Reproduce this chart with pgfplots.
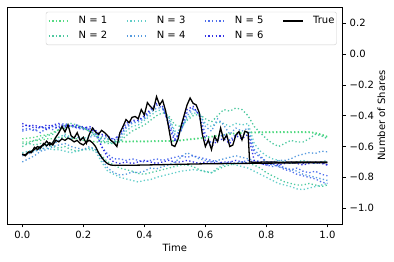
\documentclass[border=0pt]{standalone}
\usepackage{fontspec}
\setmainfont{DejaVu Sans}
\usepackage{pgfplots}
\pgfplotsset{compat=1.18}
\usepackage{pgfplotstable}

\definecolor{cN1}{RGB}{70,215,120}
\definecolor{cN2}{RGB}{60,195,150}
\definecolor{cN3}{RGB}{80,200,195}
\definecolor{cN4}{RGB}{70,145,220}
\definecolor{cN5}{RGB}{60,95,235}
\definecolor{cN6}{RGB}{30,30,225}
\definecolor{legframe}{RGB}{204,204,204}

\pgfplotstableread{
t    A1     A2    A3    A4    A5    A6    B1     B2    B3    B4    B5    B6
0.00 -0.550 -0.60 -0.64 -0.66 -0.49 -0.47 -0.570 -0.58 -0.65 -0.70 -0.50 -0.45
0.02 -0.545 -0.58 -0.63 -0.65 -0.48 -0.46 -0.570 -0.58 -0.64 -0.68 -0.49 -0.47
0.04 -0.540 -0.56 -0.62 -0.63 -0.50 -0.48 -0.560 -0.59 -0.63 -0.66 -0.49 -0.46
0.06 -0.530 -0.55 -0.60 -0.62 -0.47 -0.47 -0.560 -0.58 -0.62 -0.63 -0.51 -0.48
0.08 -0.525 -0.53 -0.59 -0.60 -0.48 -0.49 -0.550 -0.59 -0.61 -0.62 -0.48 -0.46
0.10 -0.510 -0.52 -0.57 -0.59 -0.47 -0.46 -0.550 -0.60 -0.62 -0.60 -0.49 -0.47
0.12 -0.490 -0.49 -0.54 -0.56 -0.46 -0.45 -0.540 -0.61 -0.62 -0.59 -0.47 -0.48
0.14 -0.480 -0.46 -0.52 -0.53 -0.45 -0.47 -0.540 -0.60 -0.63 -0.58 -0.48 -0.46
0.16 -0.470 -0.45 -0.54 -0.55 -0.47 -0.46 -0.550 -0.62 -0.64 -0.60 -0.46 -0.47
0.18 -0.470 -0.46 -0.53 -0.54 -0.48 -0.48 -0.550 -0.63 -0.63 -0.61 -0.47 -0.46
0.20 -0.480 -0.48 -0.55 -0.56 -0.49 -0.47 -0.560 -0.62 -0.62 -0.62 -0.48 -0.48
0.22 -0.500 -0.50 -0.53 -0.54 -0.48 -0.49 -0.560 -0.61 -0.62 -0.60 -0.50 -0.47
0.24 -0.520 -0.53 -0.52 -0.53 -0.51 -0.50 -0.570 -0.62 -0.63 -0.62 -0.52 -0.49
0.26 -0.540 -0.57 -0.56 -0.55 -0.53 -0.52 -0.570 -0.66 -0.70 -0.68 -0.60 -0.60
0.28 -0.555 -0.58 -0.57 -0.55 -0.54 -0.53 -0.568 -0.70 -0.76 -0.74 -0.65 -0.67
0.30 -0.565 -0.58 -0.58 -0.57 -0.55 -0.56 -0.569 -0.72 -0.78 -0.77 -0.68 -0.70
0.32 -0.565 -0.57 -0.56 -0.54 -0.53 -0.52 -0.569 -0.74 -0.80 -0.785 -0.68 -0.71
0.34 -0.566 -0.53 -0.50 -0.48 -0.47 -0.45 -0.570 -0.75 -0.81 -0.78 -0.69 -0.70
0.36 -0.565 -0.50 -0.47 -0.45 -0.44 -0.43 -0.569 -0.76 -0.82 -0.765 -0.68 -0.71
0.38 -0.565 -0.48 -0.46 -0.44 -0.43 -0.43 -0.569 -0.775 -0.83 -0.77 -0.69 -0.70
0.40 -0.565 -0.46 -0.43 -0.42 -0.41 -0.40 -0.569 -0.78 -0.82 -0.76 -0.70 -0.69
0.42 -0.564 -0.43 -0.40 -0.38 -0.37 -0.36 -0.568 -0.77 -0.815 -0.74 -0.69 -0.70
0.44 -0.563 -0.40 -0.37 -0.35 -0.33 -0.32 -0.567 -0.76 -0.80 -0.745 -0.68 -0.71
0.46 -0.562 -0.38 -0.36 -0.35 -0.35 -0.34 -0.566 -0.75 -0.79 -0.73 -0.69 -0.70
0.48 -0.562 -0.40 -0.41 -0.42 -0.44 -0.46 -0.566 -0.74 -0.78 -0.72 -0.68 -0.69
0.50 -0.562 -0.46 -0.50 -0.52 -0.55 -0.57 -0.566 -0.73 -0.77 -0.70 -0.67 -0.70
0.52 -0.558 -0.47 -0.49 -0.50 -0.50 -0.48 -0.562 -0.72 -0.76 -0.67 -0.66 -0.70
0.54 -0.553 -0.43 -0.42 -0.40 -0.38 -0.36 -0.557 -0.72 -0.755 -0.64 -0.67 -0.69
0.56 -0.549 -0.40 -0.38 -0.36 -0.35 -0.34 -0.553 -0.73 -0.75 -0.66 -0.66 -0.70
0.58 -0.545 -0.39 -0.39 -0.38 -0.39 -0.40 -0.549 -0.75 -0.755 -0.68 -0.67 -0.71
0.60 -0.540 -0.42 -0.45 -0.47 -0.52 -0.56 -0.544 -0.765 -0.76 -0.69 -0.68 -0.70
0.62 -0.534 -0.44 -0.47 -0.50 -0.58 -0.60 -0.538 -0.77 -0.77 -0.70 -0.69 -0.70
0.64 -0.528 -0.40 -0.44 -0.42 -0.55 -0.56 -0.532 -0.75 -0.74 -0.69 -0.70 -0.71
0.66 -0.522 -0.36 -0.45 -0.46 -0.52 -0.55 -0.526 -0.73 -0.72 -0.68 -0.71 -0.70
0.68 -0.516 -0.37 -0.47 -0.52 -0.56 -0.58 -0.520 -0.72 -0.71 -0.67 -0.70 -0.70
0.70 -0.512 -0.35 -0.45 -0.48 -0.52 -0.53 -0.516 -0.71 -0.72 -0.66 -0.71 -0.69
0.72 -0.509 -0.36 -0.46 -0.50 -0.53 -0.55 -0.513 -0.70 -0.73 -0.67 -0.70 -0.70
0.74 -0.507 -0.40 -0.45 -0.48 -0.50 -0.52 -0.511 -0.71 -0.74 -0.68 -0.69 -0.71
0.76 -0.506 -0.47 -0.58 -0.62 -0.64 -0.69 -0.510 -0.72 -0.76 -0.69 -0.70 -0.70
0.78 -0.506 -0.51 -0.63 -0.66 -0.67 -0.70 -0.510 -0.74 -0.78 -0.70 -0.71 -0.71
0.80 -0.505 -0.55 -0.66 -0.70 -0.70 -0.71 -0.509 -0.77 -0.80 -0.71 -0.72 -0.72
0.82 -0.505 -0.58 -0.68 -0.70 -0.71 -0.70 -0.509 -0.79 -0.82 -0.72 -0.73 -0.71
0.84 -0.505 -0.60 -0.69 -0.69 -0.73 -0.71 -0.509 -0.81 -0.84 -0.73 -0.72 -0.72
0.86 -0.505 -0.58 -0.70 -0.69 -0.75 -0.70 -0.509 -0.83 -0.85 -0.74 -0.74 -0.71
0.88 -0.505 -0.56 -0.71 -0.68 -0.76 -0.71 -0.509 -0.84 -0.86 -0.75 -0.75 -0.70
0.90 -0.505 -0.57 -0.70 -0.66 -0.78 -0.70 -0.509 -0.85 -0.875 -0.76 -0.74 -0.71
0.92 -0.505 -0.57 -0.69 -0.65 -0.79 -0.71 -0.509 -0.85 -0.88 -0.78 -0.76 -0.72
0.94 -0.505 -0.55 -0.70 -0.64 -0.80 -0.70 -0.509 -0.84 -0.87 -0.79 -0.77 -0.71
0.96 -0.510 -0.52 -0.71 -0.645 -0.81 -0.71 -0.514 -0.85 -0.86 -0.80 -0.76 -0.70
0.98 -0.520 -0.53 -0.70 -0.63 -0.83 -0.70 -0.524 -0.86 -0.85 -0.81 -0.78 -0.71
1.00 -0.535 -0.55 -0.69 -0.635 -0.84 -0.72 -0.539 -0.85 -0.84 -0.82 -0.79 -0.72
}\Ndata

\pgfplotstableread{
t v
0.00 -0.650
0.01 -0.655
0.02 -0.635
0.03 -0.640
0.04 -0.605
0.05 -0.620
0.06 -0.600
0.07 -0.590
0.08 -0.565
0.09 -0.590
0.10 -0.575
0.11 -0.540
0.12 -0.510
0.13 -0.470
0.14 -0.505
0.15 -0.460
0.16 -0.530
0.17 -0.545
0.18 -0.510
0.19 -0.560
0.20 -0.540
0.21 -0.580
0.22 -0.520
0.23 -0.480
0.24 -0.505
0.25 -0.520
0.26 -0.495
0.27 -0.510
0.28 -0.530
0.29 -0.560
0.30 -0.575
0.31 -0.600
0.32 -0.510
0.33 -0.470
0.34 -0.425
0.35 -0.445
0.36 -0.410
0.37 -0.405
0.38 -0.420
0.39 -0.360
0.40 -0.395
0.41 -0.315
0.42 -0.340
0.43 -0.360
0.44 -0.276
0.45 -0.330
0.46 -0.300
0.47 -0.370
0.48 -0.480
0.49 -0.590
0.50 -0.600
0.51 -0.555
0.52 -0.470
0.53 -0.400
0.54 -0.330
0.55 -0.285
0.56 -0.320
0.57 -0.330
0.58 -0.380
0.59 -0.520
0.60 -0.600
0.61 -0.557
0.62 -0.620
0.63 -0.535
0.64 -0.568
0.65 -0.480
0.66 -0.557
0.67 -0.525
0.68 -0.600
0.69 -0.590
0.70 -0.525
0.71 -0.503
0.72 -0.557
0.73 -0.500
0.74 -0.510
0.745 -0.700
0.76 -0.703
0.80 -0.700
0.85 -0.702
0.90 -0.700
0.95 -0.701
1.00 -0.700
}\TrueA

\pgfplotstableread{
t v
0.00 -0.650
0.01 -0.660
0.02 -0.640
0.03 -0.630
0.04 -0.620
0.05 -0.600
0.06 -0.610
0.07 -0.580
0.08 -0.595
0.09 -0.575
0.10 -0.590
0.11 -0.560
0.12 -0.570
0.13 -0.550
0.14 -0.560
0.15 -0.545
0.16 -0.555
0.17 -0.570
0.18 -0.560
0.19 -0.580
0.20 -0.590
0.21 -0.570
0.22 -0.560
0.23 -0.575
0.24 -0.600
0.25 -0.640
0.26 -0.670
0.27 -0.695
0.28 -0.712
0.29 -0.720
0.30 -0.722
0.35 -0.722
0.40 -0.720
0.45 -0.718
0.50 -0.716
0.55 -0.714
0.60 -0.712
0.70 -0.710
0.80 -0.708
0.90 -0.706
1.00 -0.705
}\TrueB

\pgfplotsset{
  nline/.style={line width=1.3pt, dash pattern=on 1.3pt off 2.3pt, draw opacity=0.9},
}
\newcommand{\lent}[1]{\makebox[47.4pt][l]{#1}}

\begin{document}
\fontsize{10}{12}\selectfont
\begin{tikzpicture}
\path[use as bounding box] (-7pt,-38pt) rectangle (387pt,224pt);
\begin{axis}[
  at={(0,0)}, anchor=south west,
  width=335.7pt, height=217pt, scale only axis,
  xmin=-0.05, xmax=1.05, ymin=-1.103, ymax=0.306,
  xtick={0,0.2,0.4,0.6,0.8,1.0},
  xticklabels={0.0,0.2,0.4,0.6,0.8,1.0},
  ytick={-1,-0.8,-0.6,-0.4,-0.2,0,0.2},
  yticklabels={−1.0,−0.8,−0.6,−0.4,−0.2,0.0,0.2},
  xtick pos=left, ytick pos=right, yticklabel pos=right,
  tick align=outside, major tick length=3.5pt,
  tick style={black, line width=0.8pt},
  axis line style={line width=0.8pt},
  tick label style={font=\fontsize{10}{12}\selectfont},
  label style={font=\fontsize{10}{12}\selectfont},
  xlabel={Time},
  ylabel={Number of Shares},
  xlabel style={at={(axis description cs:0.5,0)}, anchor=center, yshift=-24pt},
  ylabel style={at={(axis description cs:1.1156,0.5)}, anchor=center},
  legend columns=4,
  legend cell align=left,
  legend image code/.code={\draw[#1] (0pt,0pt) -- (20pt,0pt); \path (29.4pt,0pt);},
  legend style={at={(axis description cs:0.982,0.978)}, anchor=north east,
    draw=legframe, rounded corners=2pt, fill=white, fill opacity=0.8, text opacity=1, draw opacity=1,
    font=\fontsize{10}{12}\selectfont,
    inner xsep=2pt, inner ysep=4.5pt, row sep=6pt, column sep=0pt,
    nodes={inner sep=0pt},
    /tikz/every even column/.append style={column sep=0pt},
    /tikz/every odd column/.append style={column sep=0pt}},
]
\addlegendimage{nline, cN1}\addlegendentry{\lent{N = 1}}
\addlegendimage{nline, cN3}\addlegendentry{\lent{N = 3}}
\addlegendimage{nline, cN5}\addlegendentry{\lent{N = 5}}
\addlegendimage{black, line width=1.5pt}\addlegendentry{True}
\addlegendimage{nline, cN2}\addlegendentry{\lent{N = 2}}
\addlegendimage{nline, cN4}\addlegendentry{\lent{N = 4}}
\addlegendimage{nline, cN6}\addlegendentry{\lent{N = 6}}

\addplot[nline, cN1, forget plot] table[x=t, y=B1] {\Ndata};
\addplot[nline, cN2, forget plot] table[x=t, y=B2] {\Ndata};
\addplot[nline, cN3, forget plot] table[x=t, y=B3] {\Ndata};
\addplot[nline, cN4, forget plot] table[x=t, y=B4] {\Ndata};
\addplot[nline, cN5, forget plot] table[x=t, y=B5] {\Ndata};
\addplot[nline, cN6, forget plot] table[x=t, y=B6] {\Ndata};
\addplot[nline, cN1, forget plot] table[x=t, y=A1] {\Ndata};
\addplot[nline, cN2, forget plot] table[x=t, y=A2] {\Ndata};
\addplot[nline, cN3, forget plot] table[x=t, y=A3] {\Ndata};
\addplot[nline, cN4, forget plot] table[x=t, y=A4] {\Ndata};
\addplot[nline, cN5, forget plot] table[x=t, y=A5] {\Ndata};
\addplot[nline, cN6, forget plot] table[x=t, y=A6] {\Ndata};
\addplot[black, line width=1.3pt, forget plot] table[x=t, y=v] {\TrueB};
\addplot[black, line width=1.3pt, forget plot] table[x=t, y=v] {\TrueA};
\end{axis}
\end{tikzpicture}
\end{document}
